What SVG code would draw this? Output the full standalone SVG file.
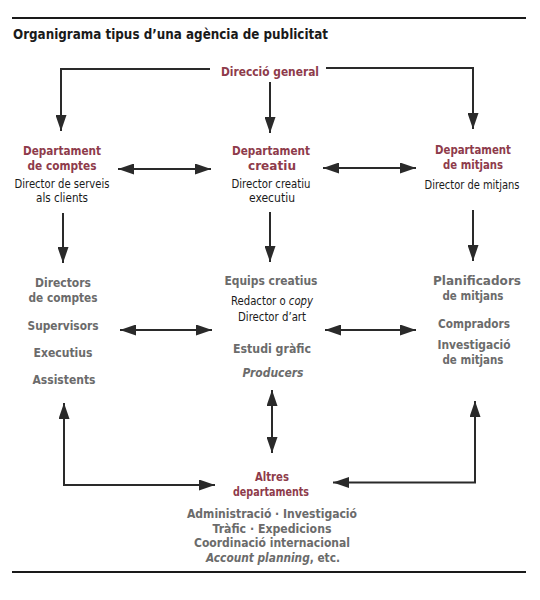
<svg xmlns="http://www.w3.org/2000/svg" width="540" height="600" viewBox="0 0 540 600">
<style>
text{font-family:"Liberation Sans Narrow","DejaVu Sans Condensed","Liberation Sans",sans-serif;text-anchor:middle}
.t{font-size:14px;font-weight:bold;fill:#1a1a1a;text-anchor:start}
.h{font-size:13px;font-weight:bold;fill:#8e3b4b}
.s{font-size:12px;fill:#1a1a1a}
.g{font-size:13px;font-weight:bold;fill:#6b6b6b}
.b{font-size:12px;font-weight:bold;fill:#6b6b6b}
.i{font-style:italic}
.rule{stroke:#1a1a1a;stroke-width:2.2;fill:none}
.c{stroke:#2a2a2a;stroke-width:2;fill:none}
.e{marker-end:url(#ah)}
.d{marker-start:url(#ah);marker-end:url(#ah)}
</style>
<defs>
<marker id="ah" markerUnits="userSpaceOnUse" viewBox="0 0 16 11" markerWidth="16" markerHeight="11" refX="16" refY="5.5" orient="auto-start-reverse">
<path d="M0,0 L16,5.5 L0,11 Z" fill="#2a2a2a"/>
</marker>
</defs>
<line class="rule" x1="12" y1="18" x2="526" y2="18"/>
<line class="rule" x1="12" y1="572" x2="526" y2="572"/>
<text class="t" x="13" y="39" textLength="315" lengthAdjust="spacingAndGlyphs">Organigrama tipus d’una agència de publicitat</text>
<g id="direccio-general">
<text class="h" x="270" y="76" textLength="98" lengthAdjust="spacingAndGlyphs">Direcció general</text>
</g>
<g id="dept-comptes">
<text class="h" x="62" y="155" textLength="78" lengthAdjust="spacingAndGlyphs">Departament</text>
<text class="h" x="62" y="170" textLength="69" lengthAdjust="spacingAndGlyphs">de comptes</text>
<text class="s" x="62" y="188" textLength="95" lengthAdjust="spacingAndGlyphs">Director de serveis</text>
<text class="s" x="62" y="202" textLength="52" lengthAdjust="spacingAndGlyphs">als clients</text>
</g>
<g id="dept-creatiu">
<text class="h" x="271" y="155" textLength="78" lengthAdjust="spacingAndGlyphs">Departament</text>
<text class="h" x="272" y="170" textLength="48" lengthAdjust="spacingAndGlyphs">creatiu</text>
<text class="s" x="271" y="188" textLength="79" lengthAdjust="spacingAndGlyphs">Director creatiu</text>
<text class="s" x="272" y="202" textLength="46" lengthAdjust="spacingAndGlyphs">executiu</text>
</g>
<g id="dept-mitjans">
<text class="h" x="473" y="154" textLength="76" lengthAdjust="spacingAndGlyphs">Departament</text>
<text class="h" x="473" y="169" textLength="60" lengthAdjust="spacingAndGlyphs">de mitjans</text>
<text class="s" x="472" y="189" textLength="95" lengthAdjust="spacingAndGlyphs">Director de mitjans</text>
</g>
<g id="equip-comptes">
<text class="g" x="63" y="287" textLength="56" lengthAdjust="spacingAndGlyphs">Directors</text>
<text class="g" x="63" y="302" textLength="69" lengthAdjust="spacingAndGlyphs">de comptes</text>
<text class="g" x="63" y="330" textLength="71" lengthAdjust="spacingAndGlyphs">Supervisors</text>
<text class="g" x="63" y="357" textLength="59" lengthAdjust="spacingAndGlyphs">Executius</text>
<text class="g" x="64" y="384" textLength="63" lengthAdjust="spacingAndGlyphs">Assistents</text>
</g>
<g id="equips-creatius">
<text class="g" x="271" y="285" textLength="93" lengthAdjust="spacingAndGlyphs">Equips creatius</text>
<text class="s" x="272" y="305" textLength="82" lengthAdjust="spacingAndGlyphs">Redactor o <tspan class="i">copy</tspan></text>
<text class="s" x="272" y="321" textLength="68" lengthAdjust="spacingAndGlyphs">Director d’art</text>
<text class="g" x="272" y="353" textLength="78" lengthAdjust="spacingAndGlyphs">Estudi gràfic</text>
<text class="g i" x="273" y="377" textLength="61" lengthAdjust="spacingAndGlyphs">Producers</text>
</g>
<g id="equip-mitjans">
<text class="g" x="477" y="285" textLength="88" lengthAdjust="spacingAndGlyphs">Planificadors</text>
<text class="g" x="473" y="300" textLength="61" lengthAdjust="spacingAndGlyphs">de mitjans</text>
<text class="g" x="474" y="328" textLength="72" lengthAdjust="spacingAndGlyphs">Compradors</text>
<text class="g" x="474" y="349" textLength="73" lengthAdjust="spacingAndGlyphs">Investigació</text>
<text class="g" x="473" y="364" textLength="61" lengthAdjust="spacingAndGlyphs">de mitjans</text>
</g>
<g id="altres-departaments">
<text class="h" x="272" y="481" textLength="34" lengthAdjust="spacingAndGlyphs">Altres</text>
<text class="h" x="271" y="496" textLength="76" lengthAdjust="spacingAndGlyphs">departaments</text>
<text class="b" x="272" y="518" textLength="170" lengthAdjust="spacingAndGlyphs">Administració · Investigació</text>
<text class="b" x="272" y="533" textLength="119" lengthAdjust="spacingAndGlyphs">Tràfic · Expedicions</text>
<text class="b" x="272" y="547" textLength="156" lengthAdjust="spacingAndGlyphs">Coordinació internacional</text>
<text class="b" x="273" y="562" textLength="134" lengthAdjust="spacingAndGlyphs"><tspan class="i">Account planning</tspan>, etc.</text>
</g>
<g id="connectors">
<polyline class="c e" points="210,69 61,69 61,131"/>
<polyline class="c e" points="326,68 473,68 473,129"/>
<line class="c e" x1="270" y1="82" x2="270" y2="133"/>
<line class="c d" x1="118" y1="169" x2="211" y2="169"/>
<line class="c d" x1="323" y1="168" x2="416" y2="168"/>
<line class="c e" x1="63" y1="213" x2="63" y2="263"/>
<line class="c e" x1="270" y1="212" x2="270" y2="262"/>
<line class="c e" x1="473" y1="210" x2="473" y2="261"/>
<line class="c d" x1="120" y1="330" x2="212" y2="330"/>
<line class="c d" x1="325" y1="330" x2="416" y2="330"/>
<line class="c d" x1="272" y1="390" x2="272" y2="453"/>
<polyline class="c d" points="64,403 64,485 215,485"/>
<polyline class="c d" points="475,401 475,482.5 333,482.5"/>
</g>
</svg>
